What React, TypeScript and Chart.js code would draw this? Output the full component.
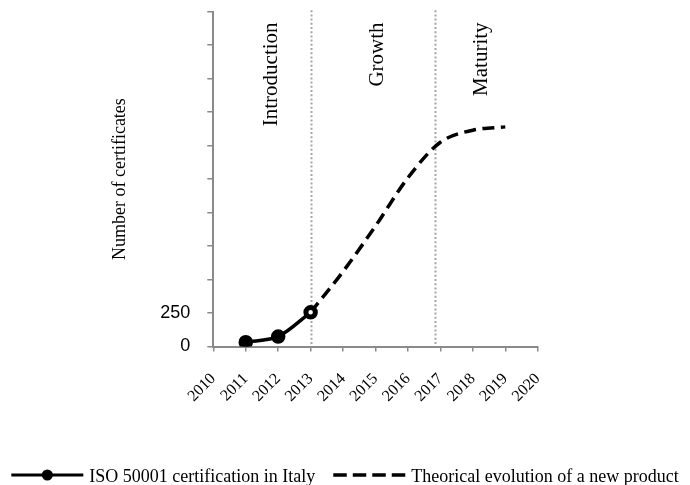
import React, { useEffect, useRef } from "react";
import { Chart, registerables } from "chart.js";

Chart.register(...registerables);

// ---- data ----
const xMin = 2010;
const xMax = 2020;
const yMin = 0;
const yMax = 2500;
const yStep = 250;
const yLabeledTicks = [0, 250];

const certYears = [2011, 2012, 2013];
const certValues = [32, 74, 255];

const theoryYears = [2013, 2014, 2015, 2016, 2017, 2018, 2019];
const theoryValues = [255, 560, 900, 1260, 1525, 1615, 1640];

const phaseBoundaries = [2013, 2016.83];
const phaseNames = ["Introduction", "Growth", "Maturity"];
const phaseLabelX = [2011.97, 2015.24, 2018.44];
const phaseLabelY = 2420;

const seriesLabels = ["ISO 50001 certification in Italy", "Theorical evolution of a new product"];
const yTitle = "Number of certificates";

const SERIF = "'Liberation Serif', 'Times New Roman', serif";
const SANS = "'Liberation Sans', Arial, sans-serif";
const AXIS_GREY = "#8a8a8a";

const phasePlugin = {
  id: "phases",
  beforeDatasetsDraw(chart: any) {
    const { ctx, chartArea, scales } = chart;
    ctx.save();
    ctx.strokeStyle = "#a6a6a6";
    ctx.lineWidth = 2;
    ctx.setLineDash([2, 2.2]);
    phaseBoundaries.forEach((b) => {
      const x = Math.round(scales.x.getPixelForValue(b)) + 0.5;
      ctx.beginPath();
      ctx.moveTo(x, chartArea.top - 1.5);
      ctx.lineTo(x, chartArea.bottom);
      ctx.stroke();
    });
    ctx.restore();
  },
  afterDraw(chart: any) {
    const { ctx, scales } = chart;
    ctx.save();
    ctx.fillStyle = "#000";
    ctx.font = `21px ${SERIF}`;
    ctx.textAlign = "right";
    ctx.textBaseline = "alphabetic";
    phaseNames.forEach((name, i) => {
      const x = scales.x.getPixelForValue(phaseLabelX[i]);
      const y = scales.y.getPixelForValue(phaseLabelY);
      ctx.save();
      ctx.translate(x, y);
      ctx.rotate(-Math.PI / 2);
      ctx.fillText(name, 0, 0);
      ctx.restore();
    });
    ctx.restore();
  },
};

const legendPlugin = {
  id: "customLegend",
  afterDraw(chart: any) {
    const { ctx, width } = chart;
    ctx.save();
    ctx.font = `18px ${SERIF}`;
    const sample = 72;
    const gap = 6;
    const itemGap = 18;
    const w1 = ctx.measureText(seriesLabels[0]).width;
    const w2 = ctx.measureText(seriesLabels[1]).width;
    const total = sample + gap + w1 + itemGap + sample + gap + w2;
    let x = (width - total) / 2;
    const yLine = 475;
    const yText = 481.5;
    // item 1
    ctx.strokeStyle = "#000";
    ctx.fillStyle = "#000";
    ctx.lineWidth = 3;
    ctx.setLineDash([]);
    ctx.beginPath();
    ctx.moveTo(x, yLine);
    ctx.lineTo(x + sample, yLine);
    ctx.stroke();
    ctx.beginPath();
    ctx.arc(x + sample / 2, yLine, 5.5, 0, Math.PI * 2);
    ctx.fill();
    x += sample + gap;
    ctx.textAlign = "left";
    ctx.textBaseline = "alphabetic";
    ctx.fillText(seriesLabels[0], x, yText);
    x += w1 + itemGap;
    // item 2
    ctx.lineWidth = 3.5;
    ctx.setLineDash([13.5, 6]);
    ctx.beginPath();
    ctx.moveTo(x, yLine);
    ctx.lineTo(x + sample, yLine);
    ctx.stroke();
    ctx.setLineDash([]);
    x += sample + gap;
    ctx.fillText(seriesLabels[1], x, yText);
    ctx.restore();
  },
};

export default function App() {
  const canvasRef = useRef<HTMLCanvasElement | null>(null);

  useEffect(() => {
    document.body.style.margin = "0";
    const canvas = canvasRef.current;
    if (!canvas) return;
    const chart = new Chart(canvas, {
      type: "line",
      data: {
        datasets: [
          {
            label: seriesLabels[1],
            data: theoryYears.map((x, i) => ({ x, y: theoryValues[i] })),
            borderColor: "#000",
            borderWidth: 3.5,
            borderDash: [12, 6.5],
            pointRadius: theoryYears.map((_, i) => (i === 0 ? 3 : 0)),
            pointBackgroundColor: "#fff",
            pointBorderColor: "#000",
            pointBorderWidth: 1.5,
            tension: 0.4,
            cubicInterpolationMode: "monotone",
            fill: false,
            order: 0,
          },
          {
            label: seriesLabels[0],
            data: certYears.map((x, i) => ({ x, y: certValues[i] })),
            borderColor: "#000",
            backgroundColor: "#000",
            borderWidth: 3.5,
            pointRadius: 5.5,
            pointBackgroundColor: "#000",
            pointBorderColor: "#000",
            tension: 0.3,
            fill: false,
            order: 1,
          },
        ],
      },
      options: {
        responsive: false,
        animation: false,
        events: [],
        layout: { padding: { top: 11.7, left: 0, right: 152.3, bottom: 78.5 } },
        plugins: {
          legend: { display: false },
          tooltip: { enabled: false },
          title: { display: false },
        },
        scales: {
          x: {
            type: "linear",
            min: xMin,
            max: xMax,
            afterFit: (scale: any) => {
              scale.height = 60;
              scale.paddingLeft = 0;
              scale.paddingRight = 0;
            },
            ticks: {
              stepSize: 1,
              autoSkip: false,
              maxRotation: 45,
              minRotation: 45,
              padding: 18,
              color: "#000",
              font: { family: SERIF, size: 16 },
              callback: (v: any) => String(v),
            },
            grid: {
              drawOnChartArea: false,
              drawTicks: true,
              tickLength: 5,
              color: AXIS_GREY,
              lineWidth: 1.5,
            },
            border: { color: AXIS_GREY, width: 2 },
          },
          y: {
            type: "linear",
            min: yMin,
            max: yMax,
            afterFit: (scale: any) => {
              scale.width = 213.3;
              scale.paddingTop = 0;
              scale.paddingBottom = 0;
            },
            ticks: {
              stepSize: yStep,
              padding: 17,
              color: "#000",
              font: { family: SANS, size: 18 },
              callback: (v: any) => (yLabeledTicks.includes(Number(v)) ? String(v) : ""),
            },
            grid: {
              drawOnChartArea: false,
              drawTicks: true,
              tickLength: 6,
              color: AXIS_GREY,
              lineWidth: 1.5,
            },
            border: { color: AXIS_GREY, width: 2 },
            title: {
              display: true,
              text: yTitle,
              color: "#000",
              font: { family: SERIF, size: 18 },
              padding: { top: 109, bottom: 0 },
            },
          },
        },
      },
      plugins: [phasePlugin, legendPlugin],
    } as any);
    return () => chart.destroy();
  }, []);

  return (
    <div style={{ position: "relative", width: 690, height: 485 }}>
      <canvas ref={canvasRef} width={690} height={485} style={{ display: "block" }} />
    </div>
  );
}
